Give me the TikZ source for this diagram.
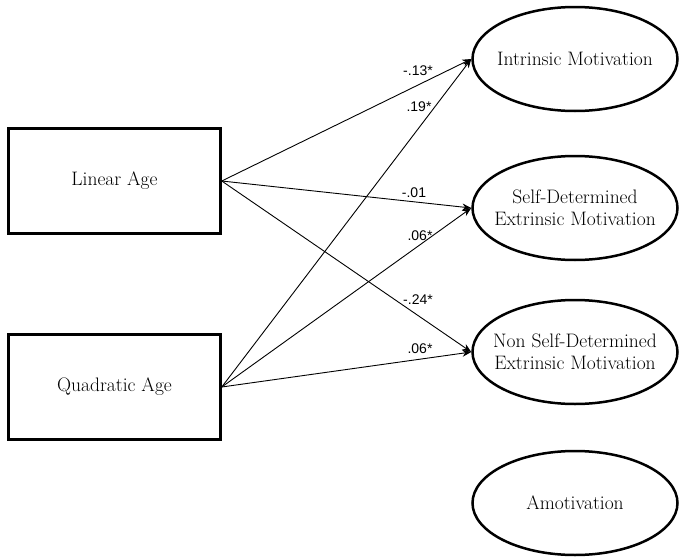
\documentclass[tikz,border=0pt]{standalone}
\usepackage{fontspec}
\usepackage{tikz}
\usetikzlibrary{shapes.geometric}
\usetikzlibrary{arrows.meta}
\newfontfamily\coeffont{Liberation Sans}
\tikzset{
   agebox/.style={draw,line width=2.5pt,rectangle,minimum width=212pt,minimum height=105pt,font=\fontsize{19.5}{22}\selectfont},
   motiv/.style={draw,line width=2.5pt,ellipse,inner xsep=-12pt,inner ysep=0pt,minimum width=205pt,minimum height=104pt,align=center,font=\fontsize{19.5}{22}\selectfont},
   path/.style={line width=0.9pt,-{Stealth[length=9pt,width=7pt]}},
   coef/.style={anchor=base,inner sep=0pt,font=\coeffont\fontsize{14}{16}\selectfont}
}
\begin{document}
\begin{tikzpicture}[x=1pt,y=-1pt]
   \useasboundingbox (0,0) rectangle (681,557);
   \node[agebox] (lin) at (114.5,181) {Linear Age};
   \node[agebox] (quad) at (114.5,387) {Quadratic Age};
   \node[motiv] (intr) at (575,59) {Intrinsic Motivation};
   \node[motiv] (sdem) at (575,208) {Self-Determined\\Extrinsic Motivation};
   \node[motiv] (nsdem) at (575,352) {Non Self-Determined\\Extrinsic Motivation};
   \node[motiv] (amot) at (575,503) {Amotivation};
   \draw[path] (lin.east) -- (intr.west);
   \draw[path] (lin.east) -- (sdem.west);
   \draw[path] (lin.east) -- (nsdem.west);
   \draw[path] (quad.east) -- (intr.west);
   \draw[path] (quad.east) -- (sdem.west);
   \draw[path] (quad.east) -- (nsdem.west);
   \node[coef] (c1) at (418,75) {-.13*};
   \node[coef] (c2) at (419,111) {.19*};
   \node[coef] (c3) at (414,197) {-.01};
   \node[coef] (c4) at (420,240) {.06*};
   \node[coef] (c5) at (418,304) {-.24*};
   \node[coef] (c6) at (420,353) {.06*};
\end{tikzpicture}
\end{document}
